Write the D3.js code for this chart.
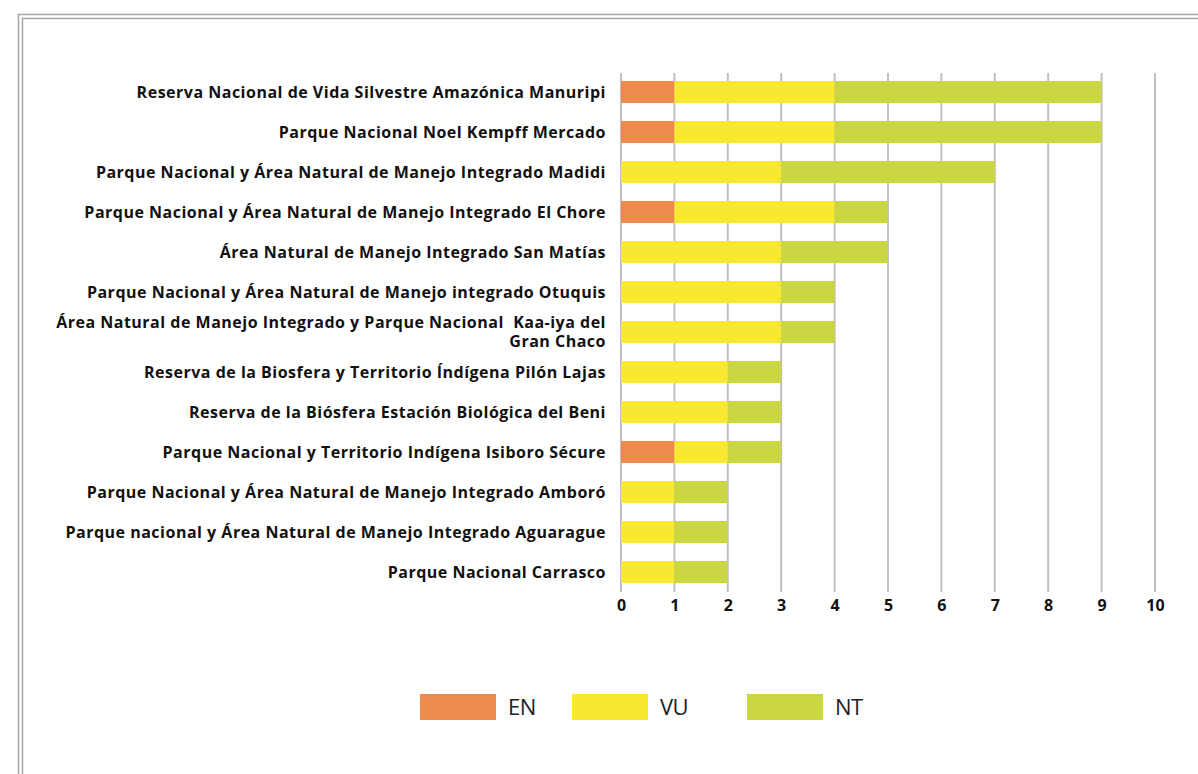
<!DOCTYPE html>
<meta charset="utf-8">
<style>
body { margin: 0; background: #fff; }
.cat-label { font-family: "Open Sans", sans-serif; font-weight: 700; font-size: 16px; letter-spacing: 0.5px; fill: #111; text-anchor: end; white-space: pre; }
.legend-text { font-family: "Open Sans", sans-serif; font-size: 22px; letter-spacing: -0.5px; fill: #222; }
</style>
<body>
<script src="https://d3js.org/d3.v7.min.js"></script>
<script>
var w = 1198, h = 774;

var areas = [
  "Reserva Nacional de Vida Silvestre Amazónica Manuripi",
  "Parque Nacional Noel Kempff Mercado",
  "Parque Nacional y Área Natural de Manejo Integrado Madidi",
  "Parque Nacional y Área Natural de Manejo Integrado El Chore",
  "Área Natural de Manejo Integrado San Matías",
  "Parque Nacional y Área Natural de Manejo integrado Otuquis",
  "Área Natural de Manejo Integrado y Parque Nacional  Kaa-iya del|Gran Chaco",
  "Reserva de la Biosfera y Territorio Índígena Pilón Lajas",
  "Reserva de la Biósfera Estación Biológica del Beni",
  "Parque Nacional y Territorio Indígena Isiboro Sécure",
  "Parque Nacional y Área Natural de Manejo Integrado Amboró",
  "Parque nacional y Área Natural de Manejo Integrado Aguarague",
  "Parque Nacional Carrasco"
];
var EN = [1, 1, 0, 1, 0, 0, 0, 0, 0, 1, 0, 0, 0];
var VU = [3, 3, 3, 3, 3, 3, 3, 2, 2, 1, 1, 1, 1];
var NT = [5, 5, 4, 1, 2, 1, 1, 1, 1, 1, 1, 1, 1];
var seriesNames = ["EN", "VU", "NT"];
var colors = ["#EE8A4B", "#F8E831", "#CBD742"];
var xTicks = [0, 1, 2, 3, 4, 5, 6, 7, 8, 9, 10];

var rows = areas.map(function(a, i) { return {area: a, EN: EN[i], VU: VU[i], NT: NT[i]}; });
var stacked = d3.stack().keys(seriesNames)(rows);

var svg = d3.select("body").append("svg")
    .attr("width", w)
    .attr("height", h);

// double frame
svg.append("rect").attr("x", 18.5).attr("y", 14.5).attr("width", 1200).attr("height", 800)
    .attr("fill", "none").attr("stroke", "#a6a6a6").attr("stroke-width", 1.5);
svg.append("rect").attr("x", 22.5).attr("y", 18.5).attr("width", 1200).attr("height", 800)
    .attr("fill", "none").attr("stroke", "#a6a6a6").attr("stroke-width", 1.5);

var x = d3.scaleLinear().domain([0, 10]).range([621, 1155]);
var y = d3.scaleBand().domain(areas).range([72, 592]).paddingInner(0.45).paddingOuter(0.225);

// grid
svg.append("g")
    .selectAll("line")
    .data(xTicks)
    .enter()
    .append("line")
    .attr("x1", function(d) { return x(d); })
    .attr("x2", function(d) { return x(d); })
    .attr("y1", 73)
    .attr("y2", 592)
    .attr("stroke", "#c0c0c4")
    .attr("stroke-width", 2);

svg.append("g")
    .selectAll("g")
    .data(stacked)
    .enter()
    .append("g")
    .attr("fill", function(d, i) { return colors[i]; })
    .selectAll("rect")
    .data(function(d) { return d; })
    .enter()
    .append("rect")
    .attr("x", function(d) { return x(d[0]); })
    .attr("width", function(d) { return x(d[1]) - x(d[0]); })
    .attr("y", function(d) { return y(d.data.area); })
    .attr("height", y.bandwidth());

// category labels
var lab = svg.append("g")
    .selectAll("text")
    .data(areas)
    .enter()
    .append("text")
    .attr("class", "cat-label")
    .attr("x", 606)
    .attr("y", function(d) { return y(d) + y.bandwidth() / 2; });
lab.each(function(d) {
    var parts = d.split("|");
    var t = d3.select(this);
    parts.forEach(function(p, j) {
        t.append("tspan")
            .attr("x", 606)
            .attr("dy", j === 0 ? (parts.length > 1 ? "-0.25em" : "0.35em") : "1.2em")
            .text(p);
    });
});

// x axis labels
var xAxis = svg.append("g")
    .attr("transform", "translate(0,592)")
    .call(d3.axisBottom(x).tickValues(xTicks).tickSize(0).tickPadding(8).tickFormat(d3.format("d")));
xAxis.select(".domain").remove();
xAxis.selectAll("text")
    .attr("font-family", "'Open Sans', sans-serif")
    .attr("font-weight", 700)
    .attr("font-size", 16)
    .attr("fill", "#111");

// legend
var legX = [420, 572, 747];
var leg = svg.append("g")
    .selectAll("g")
    .data(seriesNames)
    .enter()
    .append("g")
    .attr("transform", function(d, i) { return "translate(" + legX[i] + ",694)"; });
leg.append("rect").attr("width", 76).attr("height", 26).attr("fill", function(d, i) { return colors[i]; });
leg.append("text").attr("class", "legend-text").attr("x", 88).attr("y", 21).text(function(d) { return d; });
</script>
</body>
